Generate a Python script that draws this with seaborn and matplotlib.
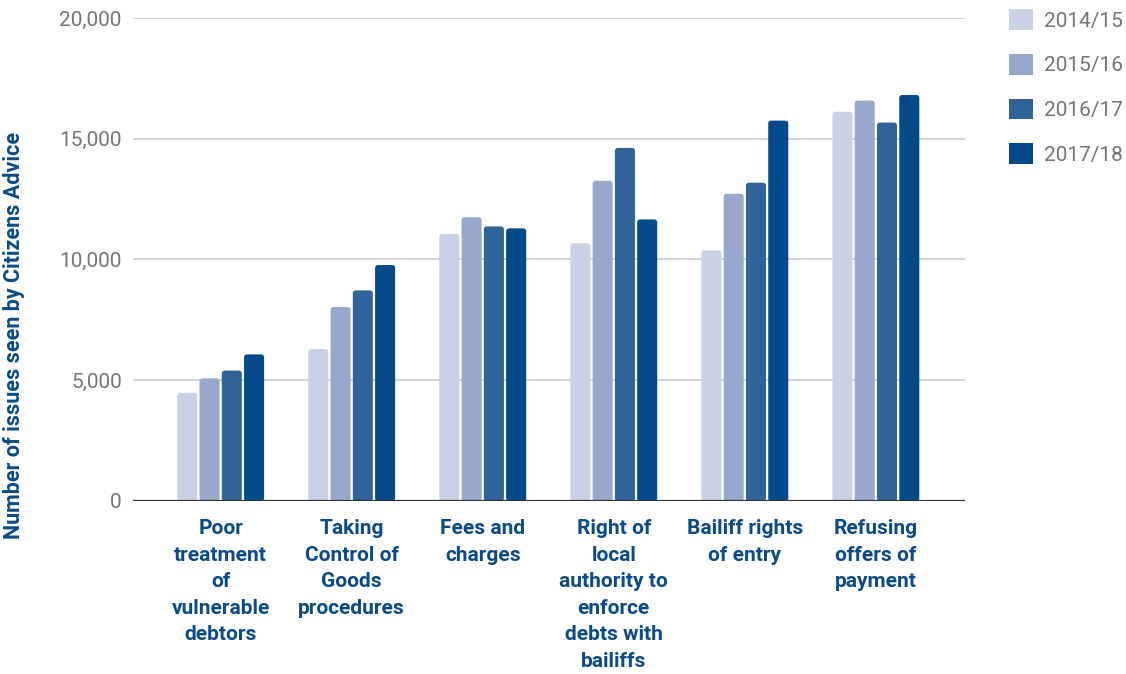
import matplotlib
matplotlib.use("Agg")
import matplotlib.pyplot as plt
import seaborn as sns
import pandas as pd
from matplotlib.patches import FancyBboxPatch, Patch

categories = [
    "Poor\ntreatment\nof\nvulnerable\ndebtors",
    "Taking\nControl of\nGoods\nprocedures",
    "Fees and\ncharges",
    "Right of\nlocal\nauthority to\nenforce\ndebts with\nbailiffs",
    "Bailiff rights\nof entry",
    "Refusing\noffers of\npayment",
]
years = ["2014/15", "2015/16", "2016/17", "2017/18"]
v_2014_15 = [4480, 6290, 11060, 10670, 10380, 16120]
v_2015_16 = [5080, 8030, 11750, 13260, 12720, 16580]
v_2016_17 = [5400, 8720, 11370, 14620, 13180, 15670]
v_2017_18 = [6070, 9770, 11290, 11660, 15750, 16810]
colors = ["#c8d1e5", "#98a8cc", "#2f6399", "#034a8a"]
yticks = [0, 5000, 10000, 15000, 20000]
ytick_labels = ["0", "5,000", "10,000", "15,000", "20,000"]

series = [v_2014_15, v_2015_16, v_2016_17, v_2017_18]
rows = []
for y, vals in zip(years, series):
    for c, v in zip(categories, vals):
        rows.append({"category": c, "year": y, "value": v})
df = pd.DataFrame(rows)

sns.set_style("white")
plt.rcParams["font.family"] = ["Roboto", "DejaVu Sans"]

fig = plt.figure(figsize=(11.26, 6.74), dpi=100)
ax = fig.add_axes([0.118, 0.2567, 0.739, 0.7166])

sns.barplot(data=df, x="category", y="value", hue="year", palette=colors,
            width=0.68, gap=0.1, ax=ax, legend=False, saturation=1)

# rounded tops
x_px_per_unit = 0.739 * 1126 / 6.35
y_px_per_unit = 0.7166 * 674 / 20000
aspect = x_px_per_unit / y_px_per_unit
patches = list(ax.patches)
for p in patches:
    x0, y0 = p.get_x(), p.get_y()
    w, h = p.get_width(), p.get_height()
    fb = FancyBboxPatch((x0, y0), w, h,
                        boxstyle="round,pad=0,rounding_size=0.022",
                        mutation_aspect=aspect,
                        facecolor=p.get_facecolor(), edgecolor="none",
                        zorder=2)
    p.remove()
    ax.add_patch(fb)

ax.set_xlim(-0.67, 5.68)
ax.set_ylim(0, 20000)
ax.set_yticks(yticks)
ax.set_yticklabels(ytick_labels, color="#757575", fontsize=15)
ax.yaxis.grid(True, color="#cccccc", linewidth=1.2)
ax.set_axisbelow(True)
for s in ax.spines.values():
    s.set_visible(False)
ax.axhline(0, color="#333333", linewidth=1.6, zorder=3)
ax.tick_params(axis="y", length=0, pad=8)
ax.tick_params(axis="x", length=0, pad=13)
for lab in ax.get_xticklabels():
    lab.set_fontsize(15)
    lab.set_fontweight("bold")
    lab.set_color("#0b4a86")
    lab.set_linespacing(1.5)
    lab.set_verticalalignment("top")
ax.set_xlabel("")
ax.set_ylabel("")
fig.text(0.0125, 0.503, "Number of issues seen by Citizens Advice", rotation=90,
         fontsize=15.5, fontweight="bold", color="#0b4a86",
         ha="center", va="center")

handles = [Patch(facecolor=c, edgecolor="none") for c in colors]
leg = fig.legend(handles, years, loc="upper left",
                 bbox_to_anchor=(0.8835, 1.008), frameon=False,
                 fontsize=15, labelcolor="#757575",
                 handlelength=1.15, handleheight=1.15, labelspacing=1.12,
                 handletextpad=0.5, borderaxespad=0.3)

fig.savefig("out.png", dpi=100)
